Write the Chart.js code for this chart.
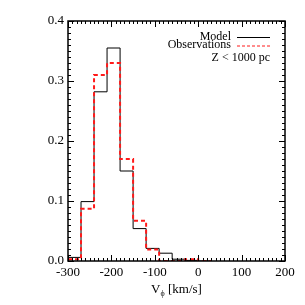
<!DOCTYPE html>
<html lang="en">

<head>
    <meta charset="UTF-8">
    <title>V_phi histogram</title>
    <script src="https://cdn.jsdelivr.net/npm/chart.js@4.4.1/dist/chart.umd.min.js"></script>
    <style>
        html, body { margin: 0; padding: 0; background: #fff; }
        #wrap { width: 305px; height: 305px; }
    </style>
</head>

<body>
    <div id="wrap"><canvas id="myChart" width="305" height="305"></canvas></div>

    <script>
        // bin edges (km/s) and fraction per bin
        const binEdges = [-300, -270, -240, -210, -180, -150, -120, -90, -60, -30, 0, 30]
        const modelFrac = [0.006, 0.099, 0.282, 0.355, 0.150, 0.054, 0.021, 0.013, 0.003, 0.001, 0.000]
        const obsFrac = [0.003, 0.087, 0.310, 0.330, 0.170, 0.067, 0.019, 0.000, 0.000, 0.003, 0.000]

        const xTicks = [-300, -200, -100, 0, 100, 200]
        const yTicks = [0.0, 0.1, 0.2, 0.3, 0.4]
        const xMinorStep = 10
        const yMinorStep = 0.01

        const legendLabels = ['Model', 'Observations']
        const noteText = 'Z < 1000 pc'

        const serif = '"Liberation Serif", "DejaVu Serif", serif'

        // step points: each bin value starts at its left edge, held to the next edge
        function stepPoints(vals) {
            const pts = vals.map((v, i) => ({ x: binEdges[i], y: v }))
            pts.push({ x: binEdges[vals.length], y: vals[vals.length - 1] })
            return pts
        }

        // frame, inward ticks on all four sides, legend and axis title
        const idlFrame = {
            id: 'idlFrame',
            afterDatasetsDraw(chart) {
                const ctx = chart.ctx
                const a = chart.chartArea
                const xs = chart.scales.x
                const ys = chart.scales.y
                ctx.save()
                ctx.strokeStyle = '#000'
                ctx.lineWidth = 1.5
                ctx.strokeRect(a.left, a.top, a.right - a.left, a.bottom - a.top)

                ctx.lineWidth = 1
                ctx.beginPath()
                for (let v = xs.min; v <= xs.max + 1e-9; v += xMinorStep) {
                    const major = xTicks.some(t => Math.abs(t - v) < 1e-6)
                    const len = major ? 6 : 3
                    const px = Math.round(xs.getPixelForValue(v)) + 0.5
                    ctx.moveTo(px, a.bottom); ctx.lineTo(px, a.bottom - len)
                    ctx.moveTo(px, a.top); ctx.lineTo(px, a.top + len)
                }
                for (let k = 0; k <= Math.round((ys.max - ys.min) / yMinorStep); k++) {
                    const v = ys.min + k * yMinorStep
                    const major = yTicks.some(t => Math.abs(t - v) < 1e-6)
                    const len = major ? 6 : 3
                    const py = Math.round(ys.getPixelForValue(v)) + 0.5
                    ctx.moveTo(a.left, py); ctx.lineTo(a.left + len, py)
                    ctx.moveTo(a.right, py); ctx.lineTo(a.right - len, py)
                }
                ctx.stroke()

                // legend
                ctx.fillStyle = '#000'
                ctx.font = '12px ' + serif
                ctx.textAlign = 'right'
                ctx.textBaseline = 'middle'
                ctx.fillText(legendLabels[0], 231, 37)
                ctx.fillText(legendLabels[1], 231, 45)
                ctx.beginPath()
                ctx.lineWidth = 1
                ctx.moveTo(237, 37.5); ctx.lineTo(270, 37.5)
                ctx.stroke()
                ctx.beginPath()
                ctx.strokeStyle = '#ff1a1a'
                ctx.setLineDash([3, 2])
                ctx.moveTo(237, 46); ctx.lineTo(270, 46)
                ctx.stroke()
                ctx.setLineDash([])
                ctx.fillText(noteText, 270, 58)

                // x title with subscript phi
                ctx.font = '13px ' + serif
                ctx.textAlign = 'left'
                ctx.textBaseline = 'alphabetic'
                const mainW = ctx.measureText('V').width
                ctx.font = '8px ' + serif
                const subW = ctx.measureText('\u03D5').width
                ctx.font = '13px ' + serif
                const restW = ctx.measureText(' [km/s]').width
                let tx = (a.left + a.right) / 2 - (mainW + subW + restW) / 2
                const ty = 293
                ctx.fillText('V', tx, ty)
                tx += mainW
                ctx.font = '8px ' + serif
                ctx.fillText('\u03D5', tx, ty + 3)
                tx += subW
                ctx.font = '13px ' + serif
                ctx.fillText(' [km/s]', tx, ty)
                ctx.restore()
            }
        }

        const ctx = document.getElementById('myChart').getContext('2d')
        const myChart = new Chart(ctx, {
            type: 'line',
            data: {
                datasets: [{
                    label: legendLabels[1],
                    data: stepPoints(obsFrac),
                    stepped: true,
                    borderColor: '#ff1a1a',
                    borderWidth: 2,
                    borderDash: [4, 3],
                    pointRadius: 0,
                    fill: false,
                    order: 0
                },
                {
                    label: legendLabels[0],
                    data: stepPoints(modelFrac),
                    stepped: true,
                    borderColor: '#000',
                    borderWidth: 1,
                    pointRadius: 0,
                    fill: false,
                    order: 1
                }]
            },
            options: {
                responsive: false,
                animation: false,
                devicePixelRatio: 1,
                layout: { padding: { left: 0, right: 20, top: 21, bottom: 0 } },
                plugins: {
                    legend: { display: false },
                    tooltip: { enabled: false }
                },
                scales: {
                    x: {
                        type: 'linear',
                        min: -300,
                        max: 200,
                        afterBuildTicks: s => { s.ticks = xTicks.map(v => ({ value: v })) },
                        afterFit: s => { s.height = 44 },
                        grid: { display: false, drawTicks: false },
                        border: { display: false },
                        ticks: {
                            color: '#000',
                            padding: 4,
                            maxRotation: 0,
                            font: { family: serif, size: 13 },
                            callback: v => String(v)
                        }
                    },
                    y: {
                        type: 'linear',
                        min: 0,
                        max: 0.4,
                        afterBuildTicks: s => { s.ticks = yTicks.map(v => ({ value: v })) },
                        afterFit: s => { s.width = 68 },
                        grid: { display: false, drawTicks: false },
                        border: { display: false },
                        ticks: {
                            color: '#000',
                            padding: 4,
                            font: { family: serif, size: 13 },
                            callback: v => Number(v).toFixed(1)
                        }
                    }
                }
            },
            plugins: [idlFrame]
        })
    </script>
</body>

</html>
